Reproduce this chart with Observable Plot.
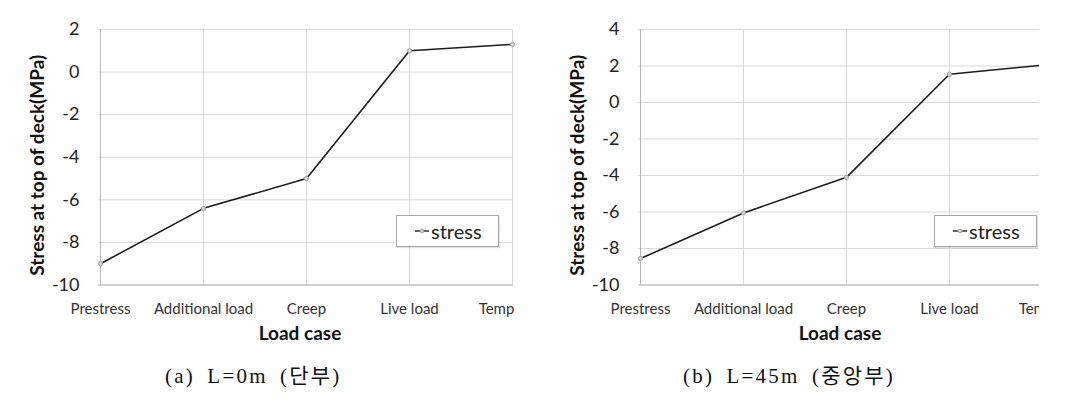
<!DOCTYPE html>
<html><head><meta charset="utf-8">
<script src="https://cdn.jsdelivr.net/npm/d3@7"></script>
<script src="https://cdn.jsdelivr.net/npm/@observablehq/plot@0.6"></script>
<style>
body{margin:0;background:#fff;}
#root{position:relative;width:1069px;height:403px;overflow:hidden;background:#fff;font-family:Lato,sans-serif;}
.clip{position:absolute;top:0;height:345px;overflow:hidden;}
.clip svg{max-width:none !important;width:540px !important;height:345px !important;}
.legend{position:absolute;top:215px;width:103px;height:32px;border:1px solid #a8a8a8;box-sizing:border-box;background:#fff;display:flex;align-items:center;padding-left:18px;font:20px Lato,sans-serif;color:#222;box-shadow:1px 1px 1px rgba(0,0,0,0.12)}
.legend svg{margin-right:2px}
.caption{position:absolute;top:366px;line-height:20px;font-family:"Liberation Serif","Noto Sans CJK KR",serif;font-size:21px;letter-spacing:2.2px;word-spacing:5px;color:#111;white-space:nowrap}
</style></head><body><div id="root"></div>
<script>
const categories = ["Prestress", "Additional load", "Creep", "Live load", "Temp"];
const stressL0 = [-9.0, -6.4, -5.0, 1.0, 1.3];
const stressL45 = [-8.55, -6.05, -4.1, 1.55, 2.1];
const yTicksL0 = [-10, -8, -6, -4, -2, 0, 2];
const yTicksL45 = [-10, -8, -6, -4, -2, 0, 2, 4];
const yLabel = "Stress at top of deck(MPa)";
const xLabel = "Load case";
const seriesName = "stress";
const captions = ["(a) L=0m (단부)", "(b) L=45m (중앙부)"];

function makeChart(values, ticks) {
  const data = categories.map((c, i) => ({c, v: values[i]}));
  const axisStyle = {tickSize: 0, tickPadding: 18, fontSize: 15, fill: "#333", label: null};
  return Plot.plot({
    width: 540, height: 345,
    marginLeft: 98, marginRight: 27, marginTop: 29, marginBottom: 60.5,
    style: {fontFamily: "Lato, sans-serif", background: "transparent", overflow: "visible", maxWidth: "none"},
    x: {type: "point", domain: categories, padding: 0},
    y: {domain: [ticks[0], ticks[ticks.length - 1]], ticks},
    marks: [
      Plot.ruleY(ticks, {stroke: "#d9d9d9"}),
      Plot.ruleX(categories, {stroke: "#d9d9d9"}),
      Plot.ruleX([categories[0]], {stroke: "#b5b5b5"}),
      Plot.ruleY([ticks[0]], {stroke: "#b5b5b5"}),
      Plot.axisY(ticks, {tickSize: 0, tickPadding: 19, fontSize: 18, fill: "#222", label: null, tickFormat: d => String(d)}),
      Plot.axisX(categories.slice(0, 4), axisStyle),
      Plot.axisX(categories.slice(4), {...axisStyle, dx: -16}),
      Plot.line(data, {x: "c", y: "v", stroke: "#1c1c1c", strokeWidth: 1.6}),
      Plot.dot(data, {x: "c", y: "v", r: 2.2, stroke: "#999", fill: "#d0d0d0", strokeWidth: 0.8}),
      Plot.text([yLabel], {frameAnchor: "left", textAnchor: "middle", lineAnchor: "middle", rotate: -90, dx: -61, dy: 8, fontSize: 19, fontWeight: "bold", fill: "#111"}),
      Plot.text([xLabel], {frameAnchor: "bottom", textAnchor: "middle", lineAnchor: "middle", dy: 48.5, dx: -6, fontSize: 19, fontWeight: "bold", fill: "#111"})
    ]
  });
}

const root = document.getElementById("root");
function addClip(left, width, chart) {
  const d = document.createElement("div");
  d.className = "clip";
  d.style.left = left + "px";
  d.style.width = width + "px";
  d.appendChild(chart);
  root.appendChild(d);
}
addClip(0, 515, makeChart(stressL0, yTicksL0));
addClip(540, 499, makeChart(stressL45, yTicksL45));

function addLegend(left) {
  const d = document.createElement("div");
  d.className = "legend";
  d.style.left = left + "px";
  d.innerHTML = '<svg width="14" height="10"><line x1="0" y1="5" x2="14" y2="5" stroke="#222" stroke-width="1.4"/><circle cx="7" cy="5" r="2" fill="#d0d0d0" stroke="#999" stroke-width="0.8"/></svg><span>' + seriesName + '</span>';
  root.appendChild(d);
}
addLegend(396);
addLegend(934);

function addCaption(left, text) {
  const d = document.createElement("div");
  d.className = "caption";
  d.style.left = left + "px";
  d.textContent = text;
  root.appendChild(d);
}
addCaption(165, captions[0]);
addCaption(683, captions[1]);
</script></body></html>
